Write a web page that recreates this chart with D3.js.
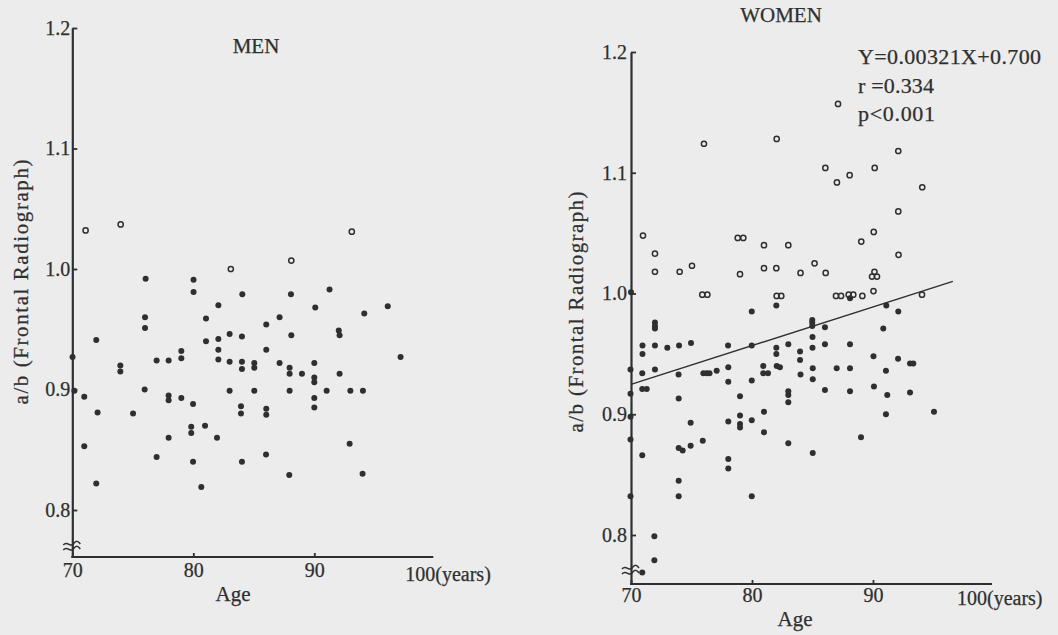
<!DOCTYPE html>
<html><head><meta charset="utf-8">
<script src="https://cdn.jsdelivr.net/npm/d3@7"></script>
<style>html,body{margin:0;padding:0;background:#ececec;} svg{display:block;}</style>
</head><body>
<svg id="chart" width="1058" height="635"></svg>
<script>
// ---------- data ----------
const yTicks = [0.8, 0.9, 1.0, 1.1, 1.2];
const xTicks = [70, 80, 90];
const xEndLabel = "100(years)";
const xTitle = "Age";
const yTitle = "a/b (Frontal Radiograph)";

const menOpen = [[71.1,1.032],[74.0,1.037],[83.1,1.000],[88.1,1.007],[93.1,1.031]];
const menFilled = [[76.06,0.992],[80.02,0.991],[80.02,0.981],[84.05,0.979],[82.07,0.970],[81.05,0.959],[76.01,0.960],[76.01,0.951],[88.07,0.979],[91.26,0.983],[90.08,0.968],[87.13,0.960],[86.03,0.954],[92.02,0.949],[92.09,0.945],[96.07,0.969],[94.13,0.963],[97.13,0.927],[71.98,0.941],[81.05,0.940],[82.07,0.942],[82.07,0.933],[83.0,0.946],[84.02,0.944],[88.1,0.945],[86.03,0.933],[79.01,0.932],[79.01,0.926],[70.02,0.927],[73.97,0.920],[73.97,0.915],[76.97,0.924],[77.96,0.924],[82.07,0.925],[83.0,0.923],[84.02,0.923],[84.02,0.917],[85.04,0.922],[85.04,0.918],[87.13,0.922],[87.96,0.918],[87.96,0.913],[88.98,0.913],[90.0,0.922],[90.0,0.910],[90.0,0.906],[92.09,0.913],[75.98,0.900],[77.96,0.895],[77.96,0.891],[79.01,0.893],[83.0,0.899],[85.04,0.899],[87.96,0.899],[91.02,0.899],[92.98,0.899],[94.02,0.899],[90.0,0.893],[90.0,0.885],[70.99,0.894],[70.17,0.899],[79.98,0.888],[83.94,0.886],[83.94,0.880],[86.03,0.884],[86.03,0.879],[72.09,0.881],[75.02,0.880],[77.96,0.860],[79.83,0.869],[79.83,0.864],[80.97,0.870],[81.96,0.860],[70.99,0.853],[92.92,0.855],[76.97,0.844],[79.98,0.840],[84.02,0.840],[86.01,0.846],[87.93,0.829],[93.99,0.830],[71.98,0.822],[80.66,0.819]];

const womenOpen = [[76.03,1.124],[82.04,1.128],[70.99,1.048],[71.98,1.033],[71.98,1.018],[74.02,1.018],[75.04,1.023],[75.89,0.999],[76.31,0.999],[78.82,1.046],[79.28,1.046],[79.01,1.016],[80.99,1.040],[80.99,1.021],[82.01,1.021],[83.0,1.040],[82.04,0.998],[82.42,0.998],[84.01,1.017],[85.17,1.025],[86.09,1.017],[86.94,0.998],[87.36,0.998],[87.99,0.999],[88.37,0.999],[89.12,0.998],[90.04,1.002],[89.92,1.014],[90.33,1.014],[90.12,1.018],[94.05,0.999],[87.11,1.157],[92.09,1.118],[86.06,1.104],[90.14,1.104],[87.02,1.092],[88.07,1.098],[94.07,1.088],[92.09,1.068],[90.06,1.051],[89.03,1.043],[92.11,1.032]];
const womenFilled = [[70.0,1.001],[71.98,0.976],[71.98,0.973],[71.98,0.971],[79.98,0.985],[82.01,0.990],[84.98,0.978],[84.98,0.976],[84.98,0.973],[86.03,0.972],[88.1,0.996],[91.1,0.990],[92.09,0.985],[90.85,0.971],[70.95,0.957],[70.95,0.950],[71.98,0.957],[73.0,0.955],[73.97,0.957],[74.96,0.959],[78.02,0.957],[79.98,0.957],[82.01,0.955],[82.01,0.950],[83.0,0.958],[83.97,0.952],[83.97,0.945],[85.0,0.964],[85.0,0.955],[86.03,0.958],[88.1,0.958],[90.04,0.948],[92.07,0.946],[69.96,0.937],[70.93,0.934],[71.98,0.937],[73.93,0.933],[75.98,0.934],[76.26,0.934],[76.49,0.934],[77.08,0.936],[78.04,0.939],[78.04,0.927],[79.98,0.928],[80.93,0.940],[80.93,0.934],[81.32,0.934],[82.04,0.940],[82.31,0.939],[84.01,0.933],[85.02,0.938],[85.02,0.929],[87.0,0.938],[88.1,0.938],[91.07,0.936],[93.06,0.942],[93.33,0.942],[69.96,0.917],[70.93,0.921],[71.3,0.921],[73.94,0.913],[79.01,0.915],[83.0,0.919],[83.0,0.916],[83.0,0.910],[86.03,0.920],[88.1,0.919],[90.08,0.923],[91.18,0.916],[93.06,0.918],[69.96,0.898],[74.93,0.893],[78.04,0.894],[79.01,0.899],[79.01,0.892],[79.01,0.889],[79.98,0.895],[80.99,0.902],[80.99,0.885],[91.07,0.900],[95.04,0.902],[69.96,0.879],[75.93,0.878],[74.93,0.874],[73.94,0.872],[74.27,0.870],[83.0,0.876],[89.01,0.881],[70.93,0.866],[78.04,0.863],[78.04,0.855],[85.02,0.868],[73.94,0.845],[73.94,0.832],[69.96,0.832],[79.98,0.832],[71.93,0.799],[71.93,0.779],[70.93,0.769]];

const womenFitSlope = 0.00321;
const womenFitIntercept = 0.700;
const womenFitAges = [70, 96.6];
const womenStats = ["Y=0.00321X+0.700", "r =0.334", "p<0.001"];

// ---------- layout ----------
const INK = "#2f2f2f";
const FONT = "'Liberation Serif', serif";
const svg = d3.select("#chart");
svg.append("rect").attr("width",1058).attr("height",635).attr("fill","#ececec");

function txt(sel, size) {
  return sel.attr("fill",INK).attr("stroke",INK).attr("stroke-width",0.25)
    .style("font-family",FONT).style("font-size",size+"px");
}

const panels = [
  {title:"MEN", titleX:256, titleY:53, xr:[72.3,435.3], yr:[510,28], axisY:557,
   ypad:2, xpad:6, endDx:-30, endY:581, ageX:233, ageY:601,
   yTitleX:28, yTitleY:282, yTitleLen:245, breakY:544,
   open:menOpen, filled:menFilled, fit:false},
  {title:"WOMEN", titleX:781, titleY:22, xr:[631,994], yr:[535,52], axisY:584,
   ypad:4, xpad:3.5, endDx:-37, endY:605, ageX:795, ageY:626,
   yTitleX:583, yTitleY:312, yTitleLen:241, breakY:568,
   open:womenOpen, filled:womenFilled, fit:true}
];

panels.forEach(p => {
  const x = d3.scaleLinear().domain([70,100]).range(p.xr);
  const y = d3.scaleLinear().domain([0.8,1.2]).range(p.yr);
  const g = svg.append("g");
  const x0 = x(70);

  const yAx = y.copy().domain([y.invert(p.axisY), 1.2]).range([p.axisY, y(1.2)]);
  const ya = g.append("g").attr("transform",`translate(${x0},0)`)
    .call(d3.axisLeft(yAx).tickValues(yTicks).tickFormat(d3.format(".1f"))
      .tickSizeInner(-5).tickSizeOuter(0).tickPadding(p.ypad));
  const xa = g.append("g").attr("transform",`translate(0,${p.axisY})`)
    .call(d3.axisBottom(x).tickValues(xTicks).tickFormat(d3.format("d"))
      .tickSizeInner(-4).tickSizeOuter(0).tickPadding(p.xpad));
  [ya, xa].forEach(a => {
    a.select(".domain").attr("stroke",INK).attr("stroke-width",2.2);
    a.selectAll(".tick line").attr("stroke",INK).attr("stroke-width",1.8);
    txt(a.selectAll(".tick text"), 20);
  });
  xa.select(".domain").attr("d", `M${x0 - 1},0H${x(100) - 2}`);

  [0, 5].forEach(off => {
    const by = p.breakY + off;
    g.append("path")
      .attr("d", `M${x0-9},${by+1} C${x0-5},${by-4} ${x0-2},${by+4} ${x0+1},${by} S${x0+6},${by-3} ${x0+8},${by}`)
      .attr("fill","none").attr("stroke",INK).attr("stroke-width",1.5);
  });

  txt(g.append("text").attr("x", x(100) + p.endDx).attr("y", p.endY), 20).text(xEndLabel);
  txt(g.append("text").attr("x",p.ageX).attr("y",p.ageY).attr("text-anchor","middle"), 21).text(xTitle);
  txt(g.append("text").attr("transform",`translate(${p.yTitleX},${p.yTitleY}) rotate(-90)`)
    .attr("text-anchor","middle").attr("textLength",p.yTitleLen).attr("lengthAdjust","spacing"), 21).text(yTitle);
  txt(g.append("text").attr("x",p.titleX).attr("y",p.titleY).attr("text-anchor","middle"), 21).text(p.title);

  if (p.fit) {
    g.append("line")
      .attr("x1", x(womenFitAges[0])).attr("y1", y(womenFitSlope*womenFitAges[0] + womenFitIntercept))
      .attr("x2", x(womenFitAges[1])).attr("y2", y(womenFitSlope*womenFitAges[1] + womenFitIntercept))
      .attr("stroke",INK).attr("stroke-width",1.4);
    const statX = 858, statYs = [64, 93, 121], statLens = [183, 76, 77];
    womenStats.forEach((s,i) => {
      txt(g.append("text").attr("x",statX).attr("y",statYs[i])
        .attr("textLength",statLens[i]).attr("lengthAdjust","spacing"), 22).text(s);
    });
  }

  g.append("g").selectAll("circle").data(p.filled).join("circle")
    .attr("cx",d=>x(d[0])).attr("cy",d=>y(d[1])).attr("r",3).attr("fill",INK);
  g.append("g").selectAll("circle").data(p.open).join("circle")
    .attr("cx",d=>x(d[0])).attr("cy",d=>y(d[1])).attr("r",2.6)
    .attr("fill","none").attr("stroke",INK).attr("stroke-width",1.5);
});
</script>
</body></html>
